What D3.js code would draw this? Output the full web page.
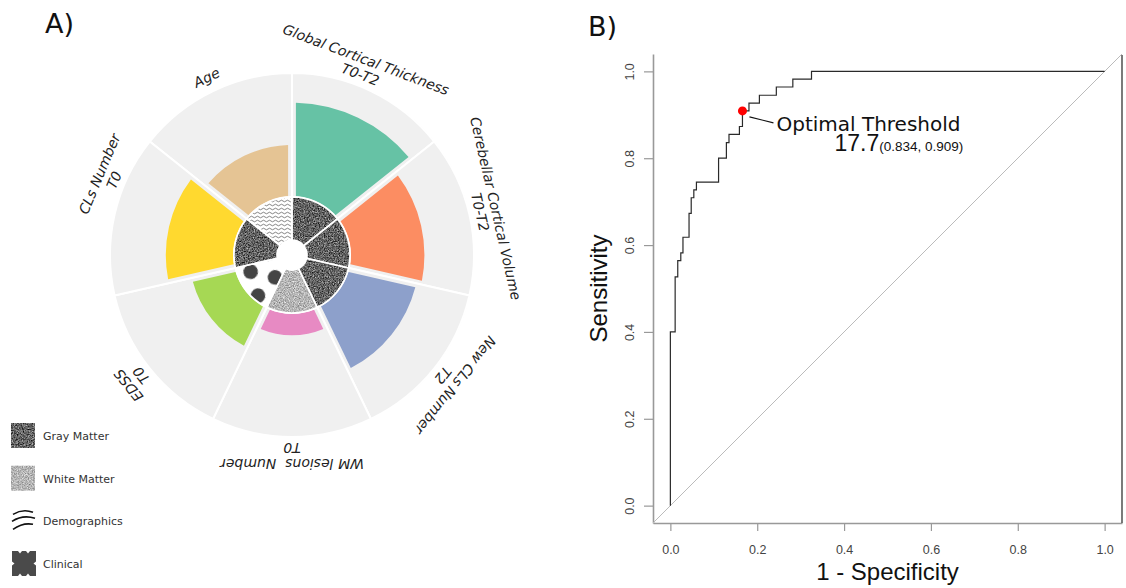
<!DOCTYPE html>
<html>
<head>
<meta charset="utf-8">
<title>Feature rose + ROC</title>
<script src="https://d3js.org/d3.v7.min.js"></script>
<style>
  body { margin: 0; background: #fff; }
</style>
</head>
<body>
<script>
// ---- panel A : feature importance rose ----
var features = ["Age", "Global Cortical Thickness", "Cerebellar Cortical Volume", "New CLs Number",
                "WM lesions  Number", "EDSS", "CLs Number"];
var featureTimes = ["", "T0-T2", "T0-T2", "T2", "T0", "T0", "T0"];
var importance = [0.42, 0.76, 0.60, 0.56, 0.18, 0.36, 0.55];
var featureGroup = ["demo", "gm", "gm", "gm", "wm", "clin", "gm"];
var barColors = ["#e5c494", "#66c2a5", "#fc8d62", "#8da0cb", "#e78ac3", "#a6d854", "#ffd92f"];
var groupKeys = ["gm", "wm", "demo", "clin"];
var groupNames = ["Gray Matter", "White Matter", "Demographics", "Clinical"];

// ---- panel B : ROC curve (staircase corners) ----
var fpr = [0, 0, 0.011, 0.017, 0.024, 0.029, 0.043, 0.048, 0.054, 0.060, 0.111, 0.129, 0.135,
           0.159, 0.166, 0.181, 0.205, 0.244, 0.282, 0.325, 1.0];
var tpr = [0, 0.400, 0.527, 0.564, 0.582, 0.618, 0.673, 0.709, 0.727, 0.745, 0.800, 0.836, 0.855,
           0.873, 0.909, 0.927, 0.945, 0.964, 0.982, 1.0, 1.0];
var optSpec = 0.834, optSens = 0.909, optThreshold = 17.7;
var rocTicks = [0, 0.2, 0.4, 0.6, 0.8, 1.0];

var width = 1126, height = 588;
var svg = d3.select('body').append('svg')
    .attr('width', width).attr('height', height)
    .style('background', '#fff');
var defs = svg.append('defs');

// noise textures for the brain tissue groups
function noiseFilter(id, a, b, seed) {
    var f = defs.append('filter').attr('id', id)
        .attr('x', 0).attr('y', 0).attr('width', 1).attr('height', 1)
        .attr('color-interpolation-filters', 'sRGB');
    f.append('feTurbulence').attr('type', 'fractalNoise').attr('baseFrequency', 0.8)
        .attr('numOctaves', 2).attr('seed', seed).attr('result', 'n');
    var row = a + ' 0 0 0 ' + b;
    f.append('feColorMatrix').attr('in', 'n').attr('type', 'matrix')
        .attr('values', [row, row, row, '0 0 0 0 1'].join(' ')).attr('result', 'g');
    f.append('feComposite').attr('in', 'g').attr('in2', 'SourceGraphic').attr('operator', 'in');
}
noiseFilter('gmNoise', 1.05, -0.14, 4);
noiseFilter('wmNoise', 0.7, 0.36, 7);

var demoPat = defs.append('pattern').attr('id', 'demoPat')
    .attr('patternUnits', 'userSpaceOnUse').attr('width', 6).attr('height', 4);
demoPat.append('rect').attr('width', 6).attr('height', 4).attr('fill', '#fff');
demoPat.append('path').attr('d', 'M0,2 Q1.5,0.4 3,2 T6,2')
    .attr('fill', 'none').attr('stroke', '#333').attr('stroke-width', 0.6);

var clinPat = defs.append('pattern').attr('id', 'clinPat')
    .attr('patternUnits', 'userSpaceOnUse').attr('width', 25).attr('height', 43.3)
    .attr('patternTransform', 'rotate(13) translate(1,15.56)');
clinPat.append('rect').attr('width', 25).attr('height', 43.3).attr('fill', '#fff');
[[12.5, 10], [0, 31.65], [25, 31.65], [12.5, 53.3], [0, -11.65], [25, -11.65]].forEach(function (p) {
    clinPat.append('circle').attr('cx', p[0]).attr('cy', p[1]).attr('r', 7.3).attr('fill', '#444');
});

function groupStyle(sel, g) {
    if (g === 'gm') sel.attr('fill', '#000').attr('filter', 'url(#gmNoise)');
    else if (g === 'wm') sel.attr('fill', '#000').attr('filter', 'url(#wmNoise)');
    else if (g === 'demo') sel.attr('fill', 'url(#demoPat)');
    else sel.attr('fill', 'url(#clinPat)');
}

// ---------------- rose ----------------
var cx = 292, cy = 255;
var nF = features.length;
var step = 2 * Math.PI / nF;
var ang = d3.scaleLinear().domain([0, nF]).range([-step, 2 * Math.PI - step]);
var rad = d3.scaleLinear().domain([0, 1]).range([58, 182]);
var arc = d3.arc();

var rose = svg.append('g').attr('transform', 'translate(' + cx + ',' + cy + ')');

rose.selectAll('path.bg').data(features).join('path').attr('class', 'bg')
    .attr('d', function (d, i) {
        return arc({innerRadius: 0, outerRadius: rad(1), startAngle: ang(i), endAngle: ang(i + 1)});
    })
    .attr('fill', '#f0f0f0').attr('stroke', '#fff').attr('stroke-width', 2);

var barArc = d3.arc().padRadius(130);
rose.selectAll('path.bar').data(importance).join('path').attr('class', 'bar')
    .attr('d', function (d, i) {
        return barArc({innerRadius: rad(0), outerRadius: rad(d), startAngle: ang(i),
                       endAngle: ang(i + 1), padAngle: 0.06});
    })
    .attr('fill', function (d, i) { return barColors[i]; });

// inner textured ring
rose.append('circle').attr('r', rad(0) + 1).attr('fill', '#fff');
featureGroup.forEach(function (g, i) {
    var p = rose.append('path')
        .attr('d', arc({innerRadius: 15, outerRadius: rad(0), startAngle: ang(i), endAngle: ang(i + 1)}));
    groupStyle(p, g);
});
rose.selectAll('path.ringline').data(featureGroup).join('path').attr('class', 'ringline')
    .attr('d', function (d, i) {
        return arc({innerRadius: 15, outerRadius: rad(0), startAngle: ang(i), endAngle: ang(i + 1)});
    })
    .attr('fill', 'none').attr('stroke', '#fff').attr('stroke-width', 1.6);

// category labels
var labelNudge = {1: -5, 6: 10};
features.forEach(function (name, i) {
    var a = (ang(i) + ang(i + 1)) / 2 * 180 / Math.PI + (labelNudge[i] || 0);
    var g = rose.append('g').attr('transform', 'rotate(' + a + ')');
    var lines = featureTimes[i] ? [name, featureTimes[i]] : [name];
    var r0 = featureTimes[i] ? 209 : 197;
    lines.forEach(function (t, k) {
        g.append('text')
            .attr('x', 0).attr('y', -(r0 - 16 * k))
            .attr('text-anchor', 'middle').attr('dominant-baseline', 'central')
            .style('font-family', 'DejaVu Sans').style('font-style', 'italic')
            .style('font-size', '14px').style('white-space', 'pre').attr('fill', '#222')
            .text(t);
    });
});

// legend
var legend = svg.append('g').attr('transform', 'translate(11,423)');
var legendRows = d3.scaleLinear().domain([0, 3]).range([0, 128]);
groupKeys.forEach(function (g, i) {
    var row = legend.append('g').attr('transform', 'translate(0,' + legendRows(i) + ')');
    if (g === 'gm' || g === 'wm') {
        var r = row.append('rect').attr('width', 24).attr('height', 25);
        groupStyle(r, g);
    } else if (g === 'demo') {
        ['M2,6 Q12,0 22,4', 'M1,13 Q12,6 24,10', 'M2,21 Q12,14 22,16'].forEach(function (d) {
            row.append('path').attr('d', d).attr('fill', 'none')
                .attr('stroke', '#111').attr('stroke-width', 1.6);
        });
    } else {
        row.append('rect').attr('x', 1).attr('width', 24).attr('height', 25).attr('fill', '#4a4a4a');
        [[7, 0, 11, 0, 9, 2.5], [15, 0, 19, 0, 17, 2.5], [1, 10.5, 1, 14.5, 3.5, 12.5], [25, 10.5, 25, 14.5, 22.5, 12.5],
         [7, 25, 11, 25, 9, 22.5], [15, 25, 19, 25, 17, 22.5]].forEach(function (t) {
            row.append('path').attr('d', 'M' + t[0] + ',' + t[1] + 'L' + t[2] + ',' + t[3] + 'L' + t[4] + ',' + t[5] + 'Z')
                .attr('fill', '#fff');
        });
    }
    row.append('text').attr('x', 32).attr('y', 13.5)
        .attr('dominant-baseline', 'central')
        .style('font-family', 'DejaVu Sans').style('font-size', '11px').attr('fill', '#333')
        .text(groupNames[i]);
});

svg.append('text').attr('x', 45).attr('y', 33)
    .style('font-family', 'DejaVu Sans').style('font-size', '27px').attr('fill', '#111').text('A)');

// ---------------- ROC ----------------
var x = d3.scaleLinear().domain([-0.04, 1.04]).range([653, 1122]);
var y = d3.scaleLinear().domain([-0.04, 1.04]).range([523, 54]);
var fmt = d3.format('.1f');

var roc = svg.append('g');

var yAxis = roc.append('g').attr('transform', 'translate(' + x.range()[0] + ',0)')
    .call(d3.axisLeft(y).tickValues(rocTicks).tickFormat(fmt).tickSize(9).tickSizeOuter(0));
yAxis.selectAll('text')
    .attr('x', null).attr('dy', null)
    .attr('transform', 'translate(-19,0) rotate(-90)')
    .attr('text-anchor', 'middle');

var xAxis = roc.append('g').attr('transform', 'translate(0,' + y.range()[0] + ')')
    .call(d3.axisBottom(x).tickValues(rocTicks).tickFormat(fmt).tickSize(8).tickSizeOuter(0).tickPadding(14));

[yAxis, xAxis].forEach(function (ax) {
    ax.select('.domain').attr('stroke', '#999').attr('stroke-width', 1.6);
    ax.selectAll('.tick line').attr('stroke', '#999').attr('stroke-width', 1.2);
    ax.selectAll('text').style('font-family', 'Liberation Sans').style('font-size', '12.5px').attr('fill', '#444');
});

// right frame edge
roc.append('line')
    .attr('x1', x.range()[1]).attr('x2', x.range()[1])
    .attr('y1', y.range()[1] + 1).attr('y2', y.range()[0])
    .attr('stroke', '#333').attr('stroke-width', 1.3);

// chance diagonal
roc.append('line')
    .attr('x1', x(-0.04)).attr('y1', y(-0.04)).attr('x2', x(1.04)).attr('y2', y(1.04))
    .attr('stroke', '#bbb').attr('stroke-width', 1);

var rocPts = fpr.map(function (f, i) { return [f, tpr[i]]; });
roc.append('path').datum(rocPts)
    .attr('d', d3.line().x(function (d) { return x(d[0]); }).y(function (d) { return y(d[1]); })
        .curve(d3.curveStepAfter))
    .attr('fill', 'none').attr('stroke', '#2a2a2a').attr('stroke-width', 1.2);

var ox = x(1 - optSpec), oy = y(optSens);
roc.append('line').attr('x1', ox + 7).attr('y1', oy + 6).attr('x2', ox + 31).attr('y2', oy + 12)
    .attr('stroke', '#111').attr('stroke-width', 1.1);
roc.append('circle').attr('cx', ox).attr('cy', oy).attr('r', 4.5).attr('fill', '#ff0000');

roc.append('text').attr('x', ox + 34).attr('y', oy + 20)
    .style('font-family', 'DejaVu Sans').style('font-size', '20px').attr('fill', '#111')
    .text('Optimal Threshold');
var valText = roc.append('text').attr('x', ox + 92).attr('y', oy + 40).attr('fill', '#111')
    .style('font-family', 'Liberation Sans');
valText.append('tspan').style('font-size', '23px').text(optThreshold.toFixed(1));
valText.append('tspan').style('font-size', '13.5px')
    .text('(' + optSpec.toFixed(3) + ', ' + optSens.toFixed(3) + ')');

roc.append('text')
    .attr('transform', 'translate(607,' + y(0.5) + ') rotate(-90)')
    .attr('text-anchor', 'middle')
    .style('font-family', 'Liberation Sans').style('font-size', '24px').attr('fill', '#111')
    .text('Sensitivity');
roc.append('text').attr('x', x(0.5)).attr('y', 580)
    .attr('text-anchor', 'middle')
    .style('font-family', 'Liberation Sans').style('font-size', '24px').attr('fill', '#111')
    .text('1 - Specificity');

svg.append('text').attr('x', 588).attr('y', 36)
    .style('font-family', 'DejaVu Sans').style('font-size', '27px').attr('fill', '#111').text('B)');
</script>
</body>
</html>
